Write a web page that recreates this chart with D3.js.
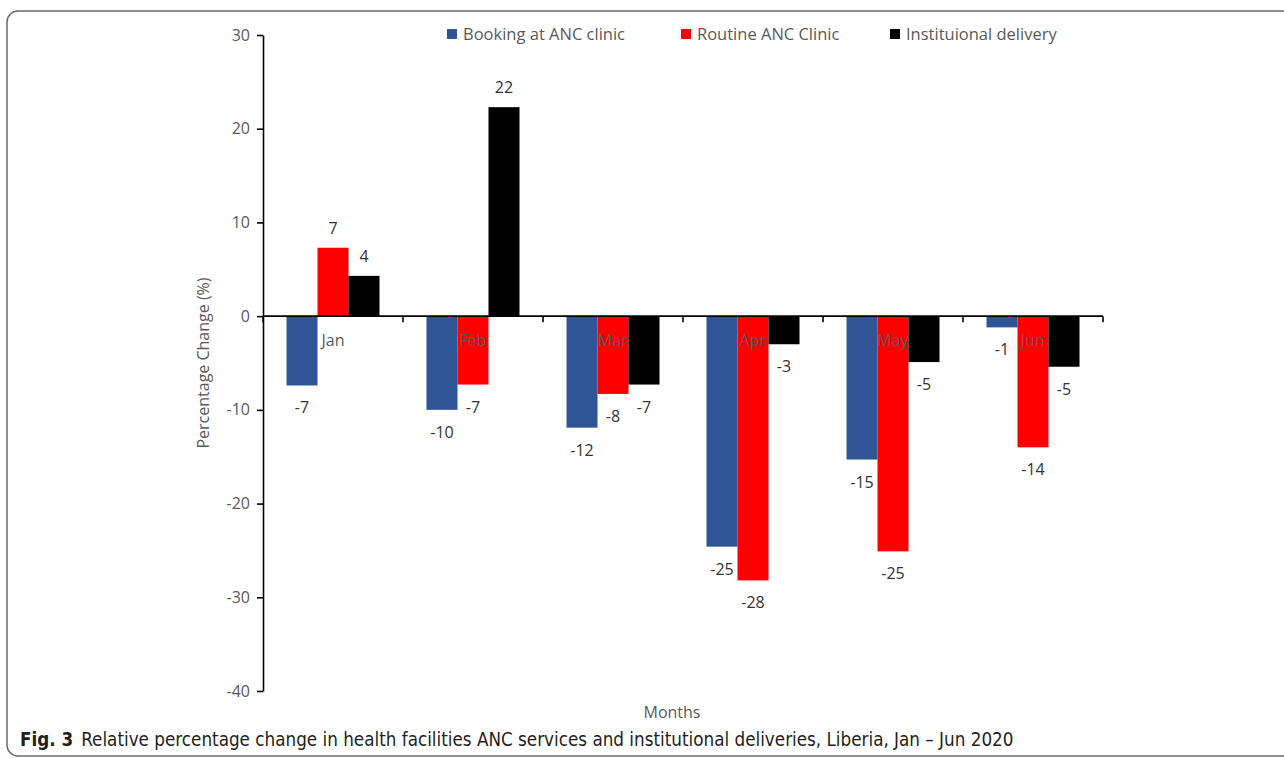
<!DOCTYPE html>
<html>
<head>
<meta charset="utf-8">
<script src="https://cdn.jsdelivr.net/npm/d3@7"></script>
<style>
  body { margin: 0; background: #fff; }
  svg text { font-family: "Open Sans", "Noto Sans", sans-serif; }
  .caption { font-family: "Liberation Sans Narrow", "DejaVu Sans Condensed", sans-serif; }
</style>
</head>
<body>
<svg id="chart" width="1284" height="759"></svg>
<script>
// values
const months = ["Jan", "Feb", "Mar", "Apr", "May", "Jun"];
const series = ["Booking at ANC clinic", "Routine ANC Clinic", "Instituional delivery"];
const booking = [-7.4, -10.0, -11.9, -24.6, -15.3, -1.2];
const routine = [7.3, -7.3, -8.3, -28.2, -25.1, -14.0];
const delivery = [4.3, 22.3, -7.3, -3.0, -4.9, -5.4];
const yTicks = [30, 20, 10, 0, -10, -20, -30, -40];
const colors = ["#2F5597", "#FF0000", "#000000"];

const values = [booking, routine, delivery];
const rows = [];
months.forEach((m, i) => {
    series.forEach((s, j) => rows.push({ month: m, series: s, value: values[j][i], k: j }));
});

const svg = d3.select("#chart");
const textColor = "#595959";
const fs = "16px";

// figure frame
svg.append("rect")
   .attr("x", 7).attr("y", 11)
   .attr("width", 1320).attr("height", 745)
   .attr("rx", 11)
   .attr("fill", "none")
   .attr("stroke", "#6b6b6b")
   .attr("stroke-width", 1.5);

const x = d3.scaleBand()
            .domain(months)
            .range([263, 1103])
            .padding(0);

const xSub = d3.scaleBand()
               .domain(series)
               .range([0, x.bandwidth()])
               .paddingInner(0)
               .paddingOuter(0.758);

const y = d3.scaleLinear()
            .domain([-40, 30])
            .range([691, 35]);

// bars
svg.append("g")
   .selectAll("rect")
   .data(rows)
   .join("rect")
   .attr("x", d => x(d.month) + xSub(d.series))
   .attr("y", d => y(Math.max(0, d.value)))
   .attr("width", xSub.bandwidth())
   .attr("height", d => Math.abs(y(d.value) - y(0)))
   .attr("fill", d => colors[d.k]);

// y axis
const yAxis = svg.append("g")
   .attr("transform", "translate(263,0)")
   .call(d3.axisLeft(y).tickValues(yTicks).tickFormat(d => String(d))
           .tickSize(6).tickSizeOuter(0).tickPadding(7));
yAxis.select(".domain").attr("stroke", "#000").attr("stroke-width", 1.6);
yAxis.selectAll(".tick line").attr("stroke", "#000").attr("stroke-width", 1.6);
yAxis.selectAll(".tick text")
     .attr("fill", textColor)
     .style("font-size", fs)
     .style("font-family", "'Open Sans', sans-serif");

// x axis at zero with ticks on category boundaries
const xAxis = svg.append("g");
xAxis.append("line")
     .attr("x1", x.range()[0]).attr("x2", x.range()[1])
     .attr("y1", y(0)).attr("y2", y(0))
     .attr("stroke", "#000").attr("stroke-width", 1.6);
const bounds = months.map(m => x(m)).concat([x.range()[1]]);
xAxis.selectAll(".xtick")
     .data(bounds)
     .join("line")
     .attr("class", "xtick")
     .attr("x1", d => d).attr("x2", d => d)
     .attr("y1", y(0)).attr("y2", y(0) + 6)
     .attr("stroke", "#000").attr("stroke-width", 1.6);

// month labels next to the axis
svg.append("g")
   .selectAll("text")
   .data(months)
   .join("text")
   .attr("x", d => x(d) + x.bandwidth() / 2)
   .attr("y", y(0) + 30)
   .attr("text-anchor", "middle")
   .attr("fill", textColor)
   .style("font-size", fs)
   .text(d => d);

// data labels
svg.append("g")
   .selectAll("text")
   .data(rows)
   .join("text")
   .attr("x", d => x(d.month) + xSub(d.series) + xSub.bandwidth() / 2)
   .attr("y", d => d.value >= 0 ? y(d.value) - 14 : y(d.value) + 28)
   .attr("text-anchor", "middle")
   .attr("fill", "#333")
   .style("font-size", fs)
   .text(d => Math.round(d.value));

// axis titles
svg.append("text")
   .attr("transform", `translate(209,${(y(30) + y(-40)) / 2}) rotate(-90)`)
   .attr("text-anchor", "middle")
   .attr("fill", textColor)
   .style("font-size", fs)
   .text("Percentage Change (%)");

svg.append("text")
   .attr("x", 672)
   .attr("y", 718)
   .attr("text-anchor", "middle")
   .attr("fill", textColor)
   .style("font-size", fs)
   .text("Months");

// legend
const legendX = [447, 681, 890];
const legend = svg.append("g")
   .selectAll("g")
   .data(series)
   .join("g")
   .attr("transform", (d, i) => `translate(${legendX[i]},29)`);
legend.append("rect")
      .attr("width", 10).attr("height", 10)
      .attr("fill", (d, i) => colors[i]);
legend.append("text")
      .attr("x", 16).attr("y", 10.5)
      .attr("fill", textColor)
      .style("font-size", "16.5px")
      .text(d => d);

// caption
const cap = svg.append("text")
   .attr("class", "caption")
   .attr("x", 20)
   .attr("y", 746)
   .attr("fill", "#231f20")
   .style("font-size", "18.7px");
cap.append("tspan").style("font-weight", "bold").text("Fig. 3");
cap.append("tspan").attr("dx", 8)
   .text("Relative percentage change in health facilities ANC services and institutional deliveries, Liberia, Jan \u2013 Jun 2020");
</script>
</body>
</html>
